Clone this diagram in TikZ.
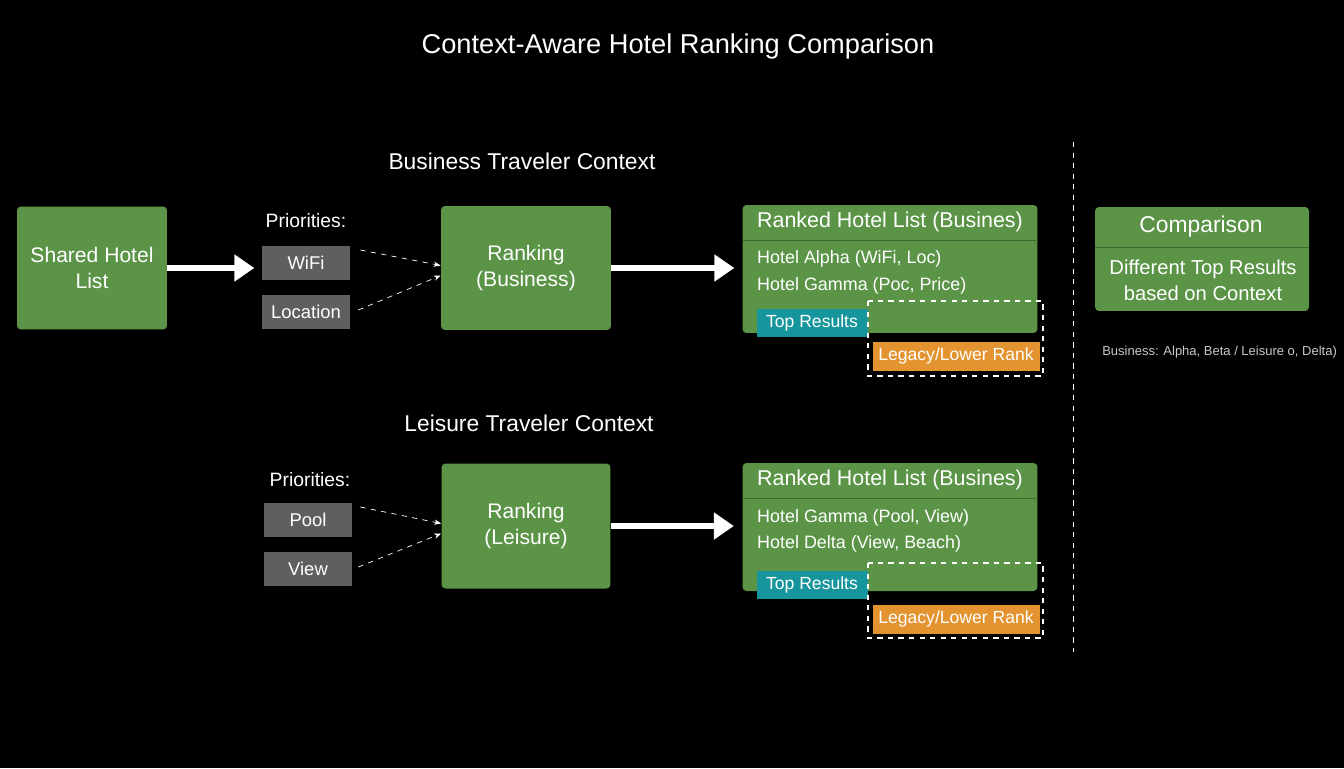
\documentclass[tikz,border=0pt]{standalone}
\usepackage{fontspec}
\setmainfont{Liberation Sans}
\usetikzlibrary{arrows.meta,positioning}
\definecolor{boxgreen}{HTML}{5B9447}
\definecolor{prigray}{HTML}{5F5F5F}
\definecolor{topteal}{HTML}{16969C}
\definecolor{legorange}{HTML}{E3932F}
\definecolor{notegray}{HTML}{C8C8C8}
\tikzset{
  gbox/.style={fill=boxgreen,rounded corners=0.08cm,text=white,align=center,font=\fontsize{12}{15}\selectfont},
  pbox/.style={fill=prigray,text=white,minimum width=1.76cm,minimum height=0.68cm,font=\fontsize{10.5}{12}\selectfont},
  bigarrow/.style={white,line width=0.12cm,-{Triangle[length=0.4cm,width=0.52cm]}},
  dasharrow/.style={white,dashed,thin,-{Stealth[length=0.14cm]}},
  head/.style={text=white,font=\fontsize{13}{15}\selectfont},
  lhead/.style={text=white,font=\fontsize{12.2}{15}\selectfont},
  item/.style={text=white,anchor=west,font=\fontsize{10.2}{12}\selectfont},
  tag/.style={text=white,font=\fontsize{10}{12}\selectfont},
}
\begin{document}
\begin{tikzpicture}[x=0.02cm,y=-0.02cm]
\fill[black] (0,0) rectangle (1344,768);
\useasboundingbox (0,0) rectangle (1344,768);

\node[text=white,font=\fontsize{15.5}{18}\selectfont] (title) at (678,46) {Context-Aware Hotel Ranking Comparison};

% business row
\node[head] (bctx) at (522,161) {Business Traveler Context};
\node[gbox,minimum width=3cm,minimum height=2.46cm] (shared) at (92,268) {Shared Hotel\\List};
\node[text=white,font=\fontsize{11}{12}\selectfont] (bpri) at (306,221) {Priorities:};
\node[pbox] (wifi) at (306,263) {WiFi};
\node[pbox] (loc) at (306,312) {Location};
\node[gbox,minimum width=3.4cm,minimum height=2.48cm] (brank) at (526,268) {Ranking\\(Business)};
\draw[bigarrow] (shared.east) -- ++(87,0);
\draw[dasharrow] (wifi.east)++(10,-13) -- ([yshift=0.05cm]brank.west);
\draw[dasharrow] (loc.east)++(8,-2) -- ([yshift=-0.15cm]brank.west);
\draw[bigarrow] (brank.east) -- ++(123,0);

\node[gbox,minimum width=5.9cm,minimum height=2.56cm] (blist) at (890,269) {};
\draw[boxgreen!70!black] (743,240) -- (1038,240);
\node[lhead] (bhead) at (890,222) {Ranked Hotel List (Busines)};
\node[item] (b1) at (751,259) {Hotel Alpha (WiFi, Loc)};
\node[item] (b2) at (751,286) {Hotel Gamma (Poc, Price)};
\node[tag,fill=topteal,minimum width=2.22cm,minimum height=0.56cm] (btop) at (812,323) {Top Results};
\draw[white,dashed,thick] (868,301) rectangle (1043,376);
\node[tag,fill=legorange,minimum width=3.2cm,minimum height=0.58cm] (bleg) at (956,356) {Legacy/Lower Rank};

% leisure row
\node[head] (lctx) at (529,423) {Leisure Traveler Context};
\node[text=white,font=\fontsize{11}{12}\selectfont] (lpri) at (310,480) {Priorities:};
\node[pbox] (pool) at (308,520) {Pool};
\node[pbox] (view) at (308,569) {View};
\node[gbox,minimum width=3.38cm,minimum height=2.5cm] (lrank) at (526,526) {Ranking\\(Leisure)};
\draw[dasharrow] (pool.east)++(8,-13) -- ([yshift=0.05cm]lrank.west);
\draw[dasharrow] (view.east)++(6,-2) -- ([yshift=-0.15cm]lrank.west);
\draw[bigarrow] (lrank.east) -- ++(123,0);

\node[gbox,minimum width=5.9cm,minimum height=2.56cm] (llist) at (890,527) {};
\draw[boxgreen!70!black] (743,498) -- (1038,498);
\node[lhead] (lhead) at (890,480) {Ranked Hotel List (Busines)};
\node[item] (l1) at (751,518) {Hotel Gamma (Pool, View)};
\node[item] (l2) at (751,544) {Hotel Delta (View, Beach)};
\node[tag,fill=topteal,minimum width=2.22cm,minimum height=0.56cm] (ltop) at (812,585) {Top Results};
\draw[white,dashed,thick] (868,563) rectangle (1043,638);
\node[tag,fill=legorange,minimum width=3.2cm,minimum height=0.58cm] (lleg) at (956,619) {Legacy/Lower Rank};

% comparison
\draw[white,dashed] (1073,142) -- (1073,652);
\node[gbox,minimum width=4.28cm,minimum height=2.08cm] (comp) at (1202,259) {};
\draw[boxgreen!70!black] (1095,247) -- (1309,247);
\node[head] (comphead) at (1201,227) {Comparison};
\node[text=white,align=center,font=\fontsize{11.5}{15}\selectfont] (compbody) at (1203,280) {Different Top Results\\based on Context};
\node[text=notegray,anchor=east,inner sep=1pt,font=\fontsize{7.4}{9}\selectfont] (note) at (1339,352) {Business: Alpha, Beta / Leisure o, Delta)};
\end{tikzpicture}
\end{document}
